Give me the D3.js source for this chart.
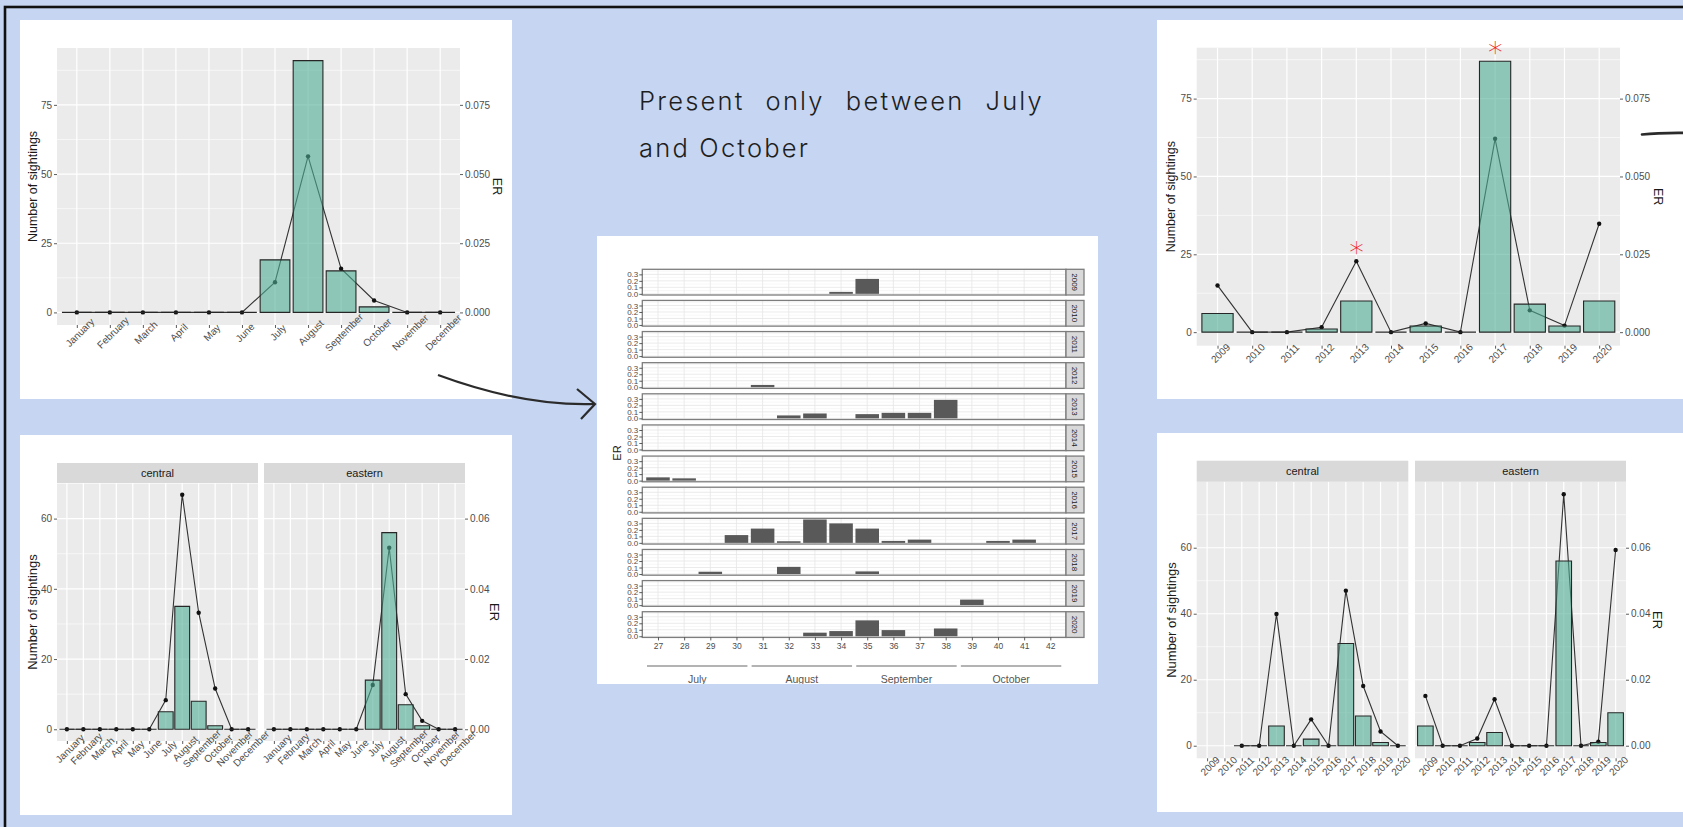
<!DOCTYPE html>
<html>
<head>
<meta charset="utf-8">
<script src="https://cdn.jsdelivr.net/npm/d3@7"></script>
<style>
html, body { margin: 0; padding: 0; background: #c6d6f2; overflow: hidden; }
svg { display: block; }
</style>
</head>
<body>
<div id="chart"></div>
<script>
// monthly sightings and encounter rate (ER), all areas and per area
const months = ["January", "February", "March", "April", "May", "June", "July", "August", "September", "October", "November", "December"];
const sightingsByMonth = [0, 0, 0, 0, 0, 0, 19, 91, 15, 2, 0, 0];
const erByMonth = [0, 0, 0, 0, 0, 0, 0.0109, 0.0564, 0.0158, 0.0043, 0, 0];
const centralByMonth = [0, 0, 0, 0, 0, 0, 5, 35, 8, 1, 0, 0];
const centralErByMonth = [0, 0, 0, 0, 0, 0, 0.0083, 0.0668, 0.0332, 0.0116, 0, 0];
const easternByMonth = [0, 0, 0, 0, 0, 0, 14, 56, 7, 1, 0, 0];
const easternErByMonth = [0, 0, 0, 0, 0, 0, 0.0126, 0.0517, 0.0100, 0.0024, 0, 0];

// yearly sightings and ER (null = no survey in that area)
const years = ["2009", "2010", "2011", "2012", "2013", "2014", "2015", "2016", "2017", "2018", "2019", "2020"];
const sightingsByYear = [6, 0, 0, 1, 10, 0, 2, 0, 87, 9, 2, 10];
const erByYear = [0.0150, 0, 0, 0.0016, 0.0228, 0, 0.0028, 0, 0.0621, 0.0070, 0.0021, 0.0348];
const centralByYear = [null, null, 0, 0, 6, 0, 2, 0, 31, 9, 1, 0];
const centralErByYear = [null, null, 0, 0, 0.0399, 0, 0.0080, 0, 0.0470, 0.0181, 0.0043, 0];
const easternByYear = [6, 0, 0, 1, 4, 0, 0, 0, 56, 0, 1, 10];
const easternErByYear = [0.0151, 0, 0, 0.0022, 0.0141, 0, 0, 0, 0.0762, 0, 0.0012, 0.0593];
const flaggedYears = ["2013", "2017"];

// weekly ER per year, weeks 27..42
const weeks = [27, 28, 29, 30, 31, 32, 33, 34, 35, 36, 37, 38, 39, 40, 41, 42];
const er2009 = [0, 0, 0, 0, 0, 0, 0, 0.03, 0.23, 0, 0, 0, 0, 0, 0, 0];
const er2010 = [0, 0, 0, 0, 0, 0, 0, 0, 0, 0, 0, 0, 0, 0, 0, 0];
const er2011 = [0, 0, 0, 0, 0, 0, 0, 0, 0, 0, 0, 0, 0, 0, 0, 0];
const er2012 = [0, 0, 0, 0, 0.035, 0, 0, 0, 0, 0, 0, 0, 0, 0, 0, 0];
const er2013 = [0, 0, 0, 0, 0, 0.045, 0.075, 0, 0.065, 0.085, 0.085, 0.285, 0, 0, 0, 0];
const er2014 = [0, 0, 0, 0, 0, 0, 0, 0, 0, 0, 0, 0, 0, 0, 0, 0];
const er2015 = [0.05, 0.035, 0, 0, 0, 0, 0, 0, 0, 0, 0, 0, 0, 0, 0, 0];
const er2016 = [0, 0, 0, 0, 0, 0, 0, 0, 0, 0, 0, 0, 0, 0, 0, 0];
const er2017 = [0, 0, 0, 0.12, 0.22, 0.025, 0.36, 0.30, 0.22, 0.03, 0.05, 0, 0, 0.03, 0.05, 0];
const er2018 = [0, 0, 0.035, 0, 0, 0.11, 0, 0, 0.04, 0, 0, 0, 0, 0, 0, 0];
const er2019 = [0, 0, 0, 0, 0, 0, 0, 0, 0, 0, 0, 0, 0.085, 0, 0, 0];
const er2020 = [0, 0, 0, 0, 0, 0, 0.055, 0.08, 0.245, 0.095, 0, 0.12, 0, 0, 0, 0];
const weekMonths = ["July", "August", "September", "October"];
const weekMonthSpans = [[27, 30], [31, 34], [35, 38], [39, 42]];

const W = 1683, H = 827;
const FONT = "'Liberation Sans', Arial, Helvetica, sans-serif";
const BAR_FILL = "#4fae93";

const svg = d3.select("#chart").append("svg")
    .attr("width", W)
    .attr("height", H);

svg.append("rect").attr("width", W).attr("height", H).attr("fill", "#c6d6f2");

// white cards holding the plots
const cards = [
    [20, 20, 492, 379],
    [20, 435, 492, 380],
    [597, 236, 501, 448],
    [1157, 20, 560, 379],
    [1157, 433, 560, 379]
];
svg.selectAll("rect.card").data(cards).join("rect")
    .attr("class", "card")
    .attr("x", d => d[0]).attr("y", d => d[1])
    .attr("width", d => d[2]).attr("height", d => d[3])
    .attr("fill", "#fff");

// page frame
svg.append("rect")
    .attr("x", 5).attr("y", 7)
    .attr("width", W + 20).attr("height", H + 20)
    .attr("fill", "none")
    .attr("stroke", "#111")
    .attr("stroke-width", 2.6);

function styleAxis(a, size) {
    a.select(".domain").remove();
    a.selectAll(".tick line").attr("stroke", "#333").attr("stroke-width", 0.8);
    a.selectAll(".tick text")
        .attr("fill", "#4d4d4d")
        .style("font-family", FONT)
        .style("font-size", size + "px");
}

function axisTitle(g, x, y, rot, text, size) {
    g.append("text")
        .attr("transform", `translate(${x},${y}) rotate(${rot})`)
        .attr("text-anchor", "middle")
        .attr("dy", "0.35em")
        .attr("fill", "#1a1a1a")
        .style("font-family", FONT)
        .style("font-size", size + "px")
        .text(text);
}

function strip(g, x0, x1, y0, y1, label) {
    g.append("rect")
        .attr("x", x0).attr("y", y0)
        .attr("width", x1 - x0).attr("height", y1 - y0)
        .attr("fill", "#d9d9d9");
    g.append("text")
        .attr("x", (x0 + x1) / 2).attr("y", (y0 + y1) / 2)
        .attr("dy", "0.35em")
        .attr("text-anchor", "middle")
        .attr("fill", "#1a1a1a")
        .style("font-family", FONT)
        .style("font-size", "11px")
        .text(label);
}

// ggplot-like panel: bars of sightings + ER line (ER scaled x1000 on the same axis)
function comboPanel(parent, cfg) {
    const g = parent.append("g");
    const x = d3.scalePoint().domain(cfg.cats).range([cfg.left, cfg.right]).padding(0.6);
    const pad = cfg.yMax * 0.05;
    const y = d3.scaleLinear().domain([-pad, cfg.yMax + pad]).range([cfg.bottom, cfg.top]);
    const bw = x.step() * 0.9;

    g.append("rect")
        .attr("x", cfg.left).attr("y", cfg.top)
        .attr("width", cfg.right - cfg.left).attr("height", cfg.bottom - cfg.top)
        .attr("fill", "#ebebeb");

    g.selectAll("line.minor").data(cfg.minor.filter(v => v < cfg.yMax + pad)).join("line")
        .attr("class", "minor")
        .attr("x1", cfg.left).attr("x2", cfg.right)
        .attr("y1", d => y(d)).attr("y2", d => y(d))
        .attr("stroke", "#fff").attr("stroke-width", 0.6);

    g.selectAll("line.hmajor").data(cfg.ticks).join("line")
        .attr("class", "hmajor")
        .attr("x1", cfg.left).attr("x2", cfg.right)
        .attr("y1", d => y(d)).attr("y2", d => y(d))
        .attr("stroke", "#fff").attr("stroke-width", 1.2);

    g.selectAll("line.vmajor").data(cfg.cats).join("line")
        .attr("class", "vmajor")
        .attr("x1", d => x(d)).attr("x2", d => x(d))
        .attr("y1", cfg.top).attr("y2", cfg.bottom)
        .attr("stroke", "#fff").attr("stroke-width", 1.2);

    const rows = cfg.cats.map((c, i) => ({ cat: c, n: cfg.count[i], er: cfg.er[i] }));

    const line = d3.line()
        .defined(d => d.er != null)
        .x(d => x(d.cat))
        .y(d => y(d.er * 1000));

    g.append("path")
        .datum(rows)
        .attr("d", line)
        .attr("fill", "none")
        .attr("stroke", "#333")
        .attr("stroke-width", 1.1);

    g.selectAll("circle.pt").data(rows.filter(d => d.er != null)).join("circle")
        .attr("class", "pt")
        .attr("cx", d => x(d.cat))
        .attr("cy", d => y(d.er * 1000))
        .attr("r", 2.2)
        .attr("fill", "#111");

    // paths so that zero-height bars still show their outline
    g.selectAll("path.bar").data(rows.filter(d => d.n != null)).join("path")
        .attr("class", "bar")
        .attr("d", d => {
            const x0 = x(d.cat) - bw / 2;
            return `M${x0},${y(0)}V${y(d.n)}H${x0 + bw}V${y(0)}Z`;
        })
        .attr("fill", BAR_FILL)
        .attr("fill-opacity", 0.6)
        .attr("stroke", "#262626")
        .attr("stroke-width", 1.1);

    return { x, y };
}

function leftAxis(g, y, ticks, xPos) {
    const a = g.append("g")
        .attr("transform", `translate(${xPos},0)`)
        .call(d3.axisLeft(y).tickValues(ticks).tickSize(3).tickPadding(2));
    styleAxis(a, 10);
}

function rightAxis(g, y, ticks, xPos, digits) {
    const a = g.append("g")
        .attr("transform", `translate(${xPos},0)`)
        .call(d3.axisRight(y).tickValues(ticks).tickSize(3).tickPadding(2)
            .tickFormat(d => (d / 1000).toFixed(digits)));
    styleAxis(a, 10);
}

function bottomAxis(g, x, yPos) {
    const a = g.append("g")
        .attr("transform", `translate(0,${yPos})`)
        .call(d3.axisBottom(x).tickSize(3));
    styleAxis(a, 10);
    a.selectAll(".tick text")
        .attr("y", 0)
        .attr("dy", "0.71em")
        .attr("text-anchor", "middle")
        .attr("transform", "translate(0,5) rotate(-45)");
}

const erMax = (counts, ers) => d3.max([...counts, ...ers.map(v => v == null ? null : v * 1000)]);

// ---- top-left: by month ----
const g1 = svg.append("g");
const p1 = comboPanel(g1, {
    cats: months, count: sightingsByMonth, er: erByMonth,
    left: 57, right: 460, top: 48, bottom: 325,
    yMax: erMax(sightingsByMonth, erByMonth),
    ticks: [0, 25, 50, 75], minor: [12.5, 37.5, 62.5, 87.5]
});
leftAxis(g1, p1.y, [0, 25, 50, 75], 57);
rightAxis(g1, p1.y, [0, 25, 50, 75], 460, 3);
bottomAxis(g1, p1.x, 325);
axisTitle(g1, 33, 186.5, -90, "Number of sightings", 12.5);
axisTitle(g1, 497, 186.5, 90, "ER", 12.5);

// ---- bottom-left: by month per area ----
const g2 = svg.append("g");
const yMax2 = Math.max(erMax(centralByMonth, centralErByMonth), erMax(easternByMonth, easternErByMonth));
const p2c = comboPanel(g2, {
    cats: months, count: centralByMonth, er: centralErByMonth,
    left: 57, right: 258, top: 483, bottom: 741, yMax: yMax2,
    ticks: [0, 20, 40, 60], minor: [10, 30, 50, 70]
});
const p2e = comboPanel(g2, {
    cats: months, count: easternByMonth, er: easternErByMonth,
    left: 264, right: 465, top: 483, bottom: 741, yMax: yMax2,
    ticks: [0, 20, 40, 60], minor: [10, 30, 50, 70]
});
strip(g2, 57, 258, 463, 483, "central");
strip(g2, 264, 465, 463, 483, "eastern");
leftAxis(g2, p2c.y, [0, 20, 40, 60], 57);
rightAxis(g2, p2e.y, [0, 20, 40, 60], 465, 2);
bottomAxis(g2, p2c.x, 741);
bottomAxis(g2, p2e.x, 741);
axisTitle(g2, 32, 612, -90, "Number of sightings", 13);
axisTitle(g2, 495, 612, 90, "ER", 13);

// ---- top-right: by year ----
const g4 = svg.append("g");
const p4 = comboPanel(g4, {
    cats: years, count: sightingsByYear, er: erByYear,
    left: 1196.7, right: 1620, top: 47.7, bottom: 345.7,
    yMax: erMax(sightingsByYear, erByYear),
    ticks: [0, 25, 50, 75], minor: [12.5, 37.5, 62.5, 87.5]
});
leftAxis(g4, p4.y, [0, 25, 50, 75], 1196.7);
rightAxis(g4, p4.y, [0, 25, 50, 75], 1620, 3);
bottomAxis(g4, p4.x, 345.7);
axisTitle(g4, 1171, 196.7, -90, "Number of sightings", 12.5);
axisTitle(g4, 1658, 196.7, 90, "ER", 12.5);

g4.selectAll("text.flag").data(flaggedYears).join("text")
    .attr("class", "flag")
    .attr("x", d => p4.x(d))
    .attr("y", d => {
        const i = years.indexOf(d);
        return p4.y(Math.max(sightingsByYear[i], erByYear[i] * 1000)) - 22;
    })
    .attr("dy", "0.62em")
    .attr("text-anchor", "middle")
    .attr("fill", "#ee1c1c")
    .style("font-family", "'DejaVu Sans', sans-serif")
    .style("font-weight", 200)
    .style("font-size", "29px")
    .text("∗");

// ---- bottom-right: by year per area ----
const g5 = svg.append("g");
const yMax5 = Math.max(erMax(centralByYear, centralErByYear), erMax(easternByYear, easternErByYear));
const p5c = comboPanel(g5, {
    cats: years, count: centralByYear, er: centralErByYear,
    left: 1196.7, right: 1408.3, top: 481.7, bottom: 758.3, yMax: yMax5,
    ticks: [0, 20, 40, 60], minor: [10, 30, 50, 70]
});
const p5e = comboPanel(g5, {
    cats: years, count: easternByYear, er: easternErByYear,
    left: 1415, right: 1626, top: 481.7, bottom: 758.3, yMax: yMax5,
    ticks: [0, 20, 40, 60], minor: [10, 30, 50, 70]
});
strip(g5, 1196.7, 1408.3, 460.7, 481.7, "central");
strip(g5, 1415, 1626, 460.7, 481.7, "eastern");
leftAxis(g5, p5c.y, [0, 20, 40, 60], 1196.7);
rightAxis(g5, p5e.y, [0, 20, 40, 60], 1626, 2);
bottomAxis(g5, p5c.x, 758.3);
bottomAxis(g5, p5e.x, 758.3);
axisTitle(g5, 1171, 620, -90, "Number of sightings", 13);
axisTitle(g5, 1658, 620, 90, "ER", 13);

// ---- centre: weekly ER faceted by year ----
const weeklyER = [er2009, er2010, er2011, er2012, er2013, er2014, er2015, er2016, er2017, er2018, er2019, er2020];
svg.append("clipPath").attr("id", "centreClip")
    .append("rect").attr("x", 597).attr("y", 236).attr("width", 501).attr("height", 448);
const g3 = svg.append("g").attr("clip-path", "url(#centreClip)");

const fx0 = 642.3, fx1 = 1066, stripW = 18;
const facetTop = 269.3, facetStep = 31.13, facetH = 25.7;
const xw = d3.scalePoint().domain(weeks).range([fx0, fx1]).padding(0.6);
const wbw = xw.step() * 0.9;
const wMax = d3.max(weeklyER.flat());
const erTicks = [0, 0.1, 0.2, 0.3];
const erMinor = [0.05, 0.15, 0.25, 0.35];

years.forEach((yr, k) => {
    const top = facetTop + k * facetStep;
    const bot = top + facetH;
    const yw = d3.scaleLinear().domain([-wMax * 0.05, wMax * 1.05]).range([bot, top]);
    const fg = g3.append("g");

    fg.append("rect")
        .attr("x", fx0).attr("y", top).attr("width", fx1 - fx0).attr("height", facetH)
        .attr("fill", "#fff");
    fg.selectAll("line.mn").data(erMinor.filter(v => v < wMax * 1.05)).join("line")
        .attr("class", "mn")
        .attr("x1", fx0).attr("x2", fx1)
        .attr("y1", d => yw(d)).attr("y2", d => yw(d))
        .attr("stroke", "#f2f2f2").attr("stroke-width", 0.6);
    fg.selectAll("line.mj").data(erTicks).join("line")
        .attr("class", "mj")
        .attr("x1", fx0).attr("x2", fx1)
        .attr("y1", d => yw(d)).attr("y2", d => yw(d))
        .attr("stroke", "#e6e6e6").attr("stroke-width", 0.8);
    fg.selectAll("line.vg").data(weeks).join("line")
        .attr("class", "vg")
        .attr("x1", d => xw(d)).attr("x2", d => xw(d))
        .attr("y1", top).attr("y2", bot)
        .attr("stroke", "#e6e6e6").attr("stroke-width", 0.8);

    const vals = weeks.map((w, i) => ({ w, v: weeklyER[k][i] })).filter(d => d.v > 0);
    fg.selectAll("rect.wb").data(vals).join("rect")
        .attr("class", "wb")
        .attr("x", d => xw(d.w) - wbw / 2)
        .attr("width", wbw)
        .attr("y", d => yw(d.v))
        .attr("height", d => yw(0) - yw(d.v))
        .attr("fill", "#595959");

    fg.append("rect")
        .attr("x", fx0).attr("y", top).attr("width", fx1 - fx0).attr("height", facetH)
        .attr("fill", "none").attr("stroke", "#7d7d7d").attr("stroke-width", 1.3);

    // year strip on the right
    fg.append("rect")
        .attr("x", fx1).attr("y", top).attr("width", stripW).attr("height", facetH)
        .attr("fill", "#d9d9d9").attr("stroke", "#7d7d7d").attr("stroke-width", 1.3);
    fg.append("text")
        .attr("transform", `translate(${fx1 + stripW / 2},${top + facetH / 2}) rotate(90)`)
        .attr("text-anchor", "middle")
        .attr("dy", "0.35em")
        .attr("fill", "#1a1a1a")
        .style("font-family", FONT)
        .style("font-size", "8px")
        .text(yr);

    const a = fg.append("g")
        .attr("transform", `translate(${fx0},0)`)
        .call(d3.axisLeft(yw).tickValues(erTicks).tickSize(3).tickPadding(1).tickFormat(d3.format(".1f")));
    styleAxis(a, 8);
});

const lastBottom = facetTop + (years.length - 1) * facetStep + facetH;
const wa = g3.append("g")
    .attr("transform", `translate(0,${lastBottom})`)
    .call(d3.axisBottom(xw).tickSize(3).tickPadding(3));
styleAxis(wa, 8.5);

const monthRows = weekMonths.map((m, i) => ({
    m,
    cx: (xw(weekMonthSpans[i][0]) + xw(weekMonthSpans[i][1])) / 2
}));
g3.selectAll("line.mline").data(monthRows).join("line")
    .attr("class", "mline")
    .attr("x1", d => d.cx - xw.step() * 1.92).attr("x2", d => d.cx + xw.step() * 1.92)
    .attr("y1", 666).attr("y2", 666)
    .attr("stroke", "#9a9a9a").attr("stroke-width", 1.6);
g3.selectAll("text.mlab").data(monthRows).join("text")
    .attr("class", "mlab")
    .attr("x", d => d.cx).attr("y", 683)
    .attr("text-anchor", "middle")
    .attr("fill", "#555")
    .style("font-family", FONT)
    .style("font-size", "10.5px")
    .text(d => d.m);

axisTitle(g3, 616.7, 453, -90, "ER", 11);

// ---- note text, justified first line ----
const note = svg.append("g")
    .style("font-family", "Inter, 'Open Sans', sans-serif")
    .style("font-weight", 300)
    .style("font-size", "25.5px")
    .style("letter-spacing", "2.2px")
    .attr("fill", "#1e1e1e");
const line1 = ["Present", "only", "between", "July"];
const wordEls = note.selectAll("text.w").data(line1).join("text")
    .attr("class", "w")
    .attr("y", 110)
    .text(d => d);
const widths = wordEls.nodes().map(n => n.getComputedTextLength());
const gap = (1044 - 639 - d3.sum(widths)) / (line1.length - 1);
let cursor = 639;
wordEls.attr("x", (d, i) => {
    const xPos = cursor;
    cursor += widths[i] + gap;
    return xPos;
});
note.append("text").attr("x", 639).attr("y", 156.7).text("and October");

// ---- arrows ----
svg.append("path")
    .attr("d", "M438,375 Q523.5,406.5 595,404")
    .attr("fill", "none").attr("stroke", "#2b2b2b").attr("stroke-width", 2.2);
svg.append("path")
    .attr("d", "M577,389 L595,404 L581,419")
    .attr("fill", "none").attr("stroke", "#2b2b2b").attr("stroke-width", 2.2)
    .attr("stroke-linejoin", "miter");
svg.append("path")
    .attr("d", "M1642,134.5 Q1660,132.5 1690,133")
    .attr("fill", "none").attr("stroke", "#2b2b2b").attr("stroke-width", 2.6)
    .attr("stroke-linecap", "round");
</script>
</body>
</html>
